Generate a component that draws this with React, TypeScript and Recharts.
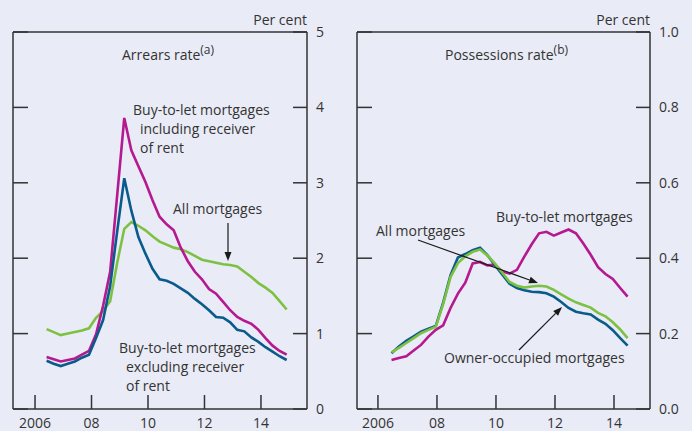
import { LineChart, Line, XAxis, YAxis, ReferenceLine } from 'recharts'

// Arrears rate panel, quarterly from 2006 Q2 to 2014 Q4 (per cent)
const leftStart = 2006.41
const arrearsAll = [
  1.06, 1.02, 0.98, 1.0, 1.02, 1.04, 1.07, 1.21, 1.3, 1.43, 1.94, 2.39, 2.48, 2.43, 2.37, 2.29, 2.22,
  2.18, 2.14, 2.12, 2.08, 2.03, 1.98, 1.96, 1.94, 1.92, 1.91, 1.89, 1.82, 1.75, 1.67, 1.61, 1.54, 1.43, 1.32,
]
const arrearsBtlIncl = [
  0.69, 0.66, 0.63, 0.65, 0.67, 0.72, 0.77, 0.99, 1.37, 1.82, 2.84, 3.86, 3.43, 3.22, 3.01, 2.77, 2.55,
  2.45, 2.37, 2.14, 1.96, 1.82, 1.72, 1.59, 1.53, 1.42, 1.31, 1.22, 1.17, 1.13, 1.05, 0.94, 0.84, 0.77, 0.72,
]
const arrearsBtlExcl = [
  0.64, 0.6, 0.57, 0.6, 0.63, 0.68, 0.72, 0.94, 1.18, 1.63, 2.36, 3.06, 2.63, 2.28, 2.06, 1.86, 1.72,
  1.7, 1.66, 1.6, 1.54, 1.46, 1.39, 1.31, 1.22, 1.21, 1.15, 1.05, 1.03, 0.95, 0.89, 0.82, 0.76, 0.7, 0.65,
]

// Possessions rate panel, quarterly from 2006 Q2 to 2014 Q2 (per cent)
const rightStart = 2006.46
const possAll = [
  0.15, 0.162, 0.175, 0.188, 0.201, 0.21, 0.218, 0.278, 0.35, 0.387, 0.405, 0.417, 0.423, 0.407, 0.386,
  0.362, 0.337, 0.327, 0.322, 0.325, 0.327, 0.325, 0.316, 0.304, 0.293, 0.283, 0.276, 0.269, 0.255, 0.246,
  0.23, 0.211, 0.188,
]
const possOwner = [
  0.148, 0.166, 0.181, 0.193, 0.205, 0.213, 0.22, 0.282, 0.355, 0.402, 0.411, 0.421, 0.428, 0.408, 0.382,
  0.357, 0.332, 0.321, 0.315, 0.311, 0.31, 0.307, 0.298, 0.284, 0.268, 0.258, 0.254, 0.251, 0.237, 0.226,
  0.209, 0.188, 0.168,
]
const possBtl = [
  0.13, 0.135, 0.14, 0.155, 0.17, 0.192, 0.21, 0.222, 0.268, 0.306, 0.335, 0.386, 0.39, 0.381, 0.383,
  0.365, 0.359, 0.369, 0.404, 0.437, 0.466, 0.47, 0.46, 0.468, 0.476, 0.466, 0.439, 0.409, 0.376, 0.358,
  0.345, 0.321, 0.298,
]

const yearTicks = [2006, 2008, 2010, 2012, 2014]
const arrearsTicks = [0, 1, 2, 3, 4, 5]
const possTicks = [0, 0.2, 0.4, 0.6, 0.8, 1.0]

const PINK = '#b5198f'
const BLUE = '#0a5a8c'
const GREEN = '#7dc142'
const INK = '#333333'
const BG = '#e9ebf6'
const FONT = '"Open Sans", "Noto Sans", sans-serif'
const FS = 14

const leftData = arrearsAll.map((v, i) => ({
  x: leftStart + i * 0.25,
  all: v,
  incl: arrearsBtlIncl[i],
  excl: arrearsBtlExcl[i],
}))

const rightData = possAll.map((v, i) => ({
  x: rightStart + i * 0.25,
  all: v,
  owner: possOwner[i],
  btl: possBtl[i],
}))

const yearLabel = (v: number) => (v === 2006 ? '2006' : String(v).slice(2))
const tickStyle = { fill: INK, fontSize: FS, fontFamily: FONT }

function Panel({
  data,
  xDomain,
  yDomain,
  yTicks,
  yFormat,
  leftW,
  rightW,
  children,
}: {
  data: any[]
  xDomain: [number, number]
  yDomain: [number, number]
  yTicks: number[]
  yFormat: (v: number) => string
  leftW: number
  rightW: number
  children: any
}) {
  return (
    <LineChart width={346} height={431} data={data} margin={{ top: 32, right: 0, bottom: 0, left: 0 }}>
      <XAxis
        dataKey="x"
        type="number"
        domain={xDomain}
        ticks={yearTicks}
        tickFormatter={yearLabel}
        height={22}
        tickSize={-14}
        tickMargin={23}
        axisLine={{ stroke: INK, strokeWidth: 1.5 }}
        tickLine={{ stroke: INK, strokeWidth: 1.5 }}
        tick={tickStyle}
        allowDataOverflow
      />
      <YAxis
        yAxisId="r"
        orientation="right"
        domain={yDomain}
        ticks={yTicks}
        tickFormatter={yFormat}
        width={rightW}
        tickSize={-14}
        tickMargin={23}
        axisLine={{ stroke: INK, strokeWidth: 1.5 }}
        tickLine={{ stroke: INK, strokeWidth: 1.5 }}
        tick={tickStyle}
        allowDataOverflow
      />
      <YAxis
        yAxisId="l"
        orientation="left"
        domain={yDomain}
        ticks={yTicks}
        tickFormatter={() => ''}
        width={leftW}
        tickSize={-15}
        tickMargin={0}
        axisLine={{ stroke: INK, strokeWidth: 1.5 }}
        tickLine={{ stroke: INK, strokeWidth: 1.5 }}
        allowDataOverflow
      />
      <ReferenceLine yAxisId="r" y={yDomain[1]} stroke={INK} strokeWidth={1.5} />
      {children}
    </LineChart>
  )
}

function Arrow({ x1, y1, x2, y2 }: { x1: number; y1: number; x2: number; y2: number }) {
  const a = Math.atan2(y2 - y1, x2 - x1)
  const L = 9
  const W = 3.5
  const bx = x2 - L * Math.cos(a)
  const by = y2 - L * Math.sin(a)
  const px = -Math.sin(a) * W
  const py = Math.cos(a) * W
  return (
    <g>
      <line x1={x1} y1={y1} x2={bx} y2={by} stroke="#1a1a1a" strokeWidth={1.2} />
      <polygon points={`${x2},${y2} ${bx + px},${by + py} ${bx - px},${by - py}`} fill="#1a1a1a" />
    </g>
  )
}

const T = ({ x, y, children, anchor = 'start' }: { x: number; y: number; children: any; anchor?: string }) => (
  <text x={x} y={y} fontSize={FS} fontFamily={FONT} fill={INK} textAnchor={anchor as any} dominantBaseline="central">
    {children}
  </text>
)

export default function App() {
  return (
    <div style={{ position: 'absolute', left: 0, top: 0, width: 692, height: 431, background: BG, overflow: 'hidden' }}>
      <div style={{ position: 'absolute', left: 0, top: 0 }}>
        <Panel
          data={leftData}
          xDomain={[2005.22, 2015.63]}
          yDomain={[0, 5]}
          yTicks={arrearsTicks}
          yFormat={(v) => String(v)}
          leftW={13}
          rightW={39}
        >
          <Line yAxisId="r" dataKey="all" stroke={GREEN} strokeWidth={2.6} dot={false} isAnimationActive={false} />
          <Line yAxisId="r" dataKey="incl" stroke={PINK} strokeWidth={2.6} dot={false} isAnimationActive={false} />
          <Line yAxisId="r" dataKey="excl" stroke={BLUE} strokeWidth={2.6} dot={false} isAnimationActive={false} />
        </Panel>
      </div>
      <div style={{ position: 'absolute', left: 346, top: 0 }}>
        <Panel
          data={rightData}
          xDomain={[2005.29, 2015.22]}
          yDomain={[0, 1]}
          yTicks={possTicks}
          yFormat={(v) => v.toFixed(1)}
          leftW={11}
          rightW={42}
        >
          <Line yAxisId="r" dataKey="btl" stroke={PINK} strokeWidth={2.6} dot={false} isAnimationActive={false} />
          <Line yAxisId="r" dataKey="owner" stroke={BLUE} strokeWidth={2.6} dot={false} isAnimationActive={false} />
          <Line yAxisId="r" dataKey="all" stroke={GREEN} strokeWidth={2.6} dot={false} isAnimationActive={false} />
        </Panel>
      </div>
      <svg width={692} height={431} style={{ position: 'absolute', left: 0, top: 0, pointerEvents: 'none' }}>
        <T x={307} y={19} anchor="end">Per cent</T>
        <T x={650} y={19} anchor="end">Per cent</T>
        <text x={122} y={54} fontSize={FS} fontFamily={FONT} fill={INK} dominantBaseline="central">
          Arrears rate<tspan fontSize={12} dy={-5}>(a)</tspan>
        </text>
        <text x={445} y={54} fontSize={FS} fontFamily={FONT} fill={INK} dominantBaseline="central">
          Possessions rate<tspan fontSize={12} dy={-5}>(b)</tspan>
        </text>
        <T x={133} y={109}>Buy-to-let mortgages</T>
        <T x={140} y={128}>including receiver</T>
        <T x={140} y={147}>of rent</T>
        <T x={173} y={208}>All mortgages</T>
        <Arrow x1={228} y1={223} x2={228} y2={261} />
        <T x={119} y={347}>Buy-to-let mortgages</T>
        <T x={126} y={366}>excluding receiver</T>
        <T x={126} y={385}>of rent</T>
        <T x={496} y={216}>Buy-to-let mortgages</T>
        <T x={376} y={230}>All mortgages</T>
        <Arrow x1={418} y1={240} x2={538} y2={283} />
        <T x={444} y={357}>Owner-occupied mortgages</T>
        <Arrow x1={519} y1={350} x2={562} y2={307} />
      </svg>
    </div>
  )
}
